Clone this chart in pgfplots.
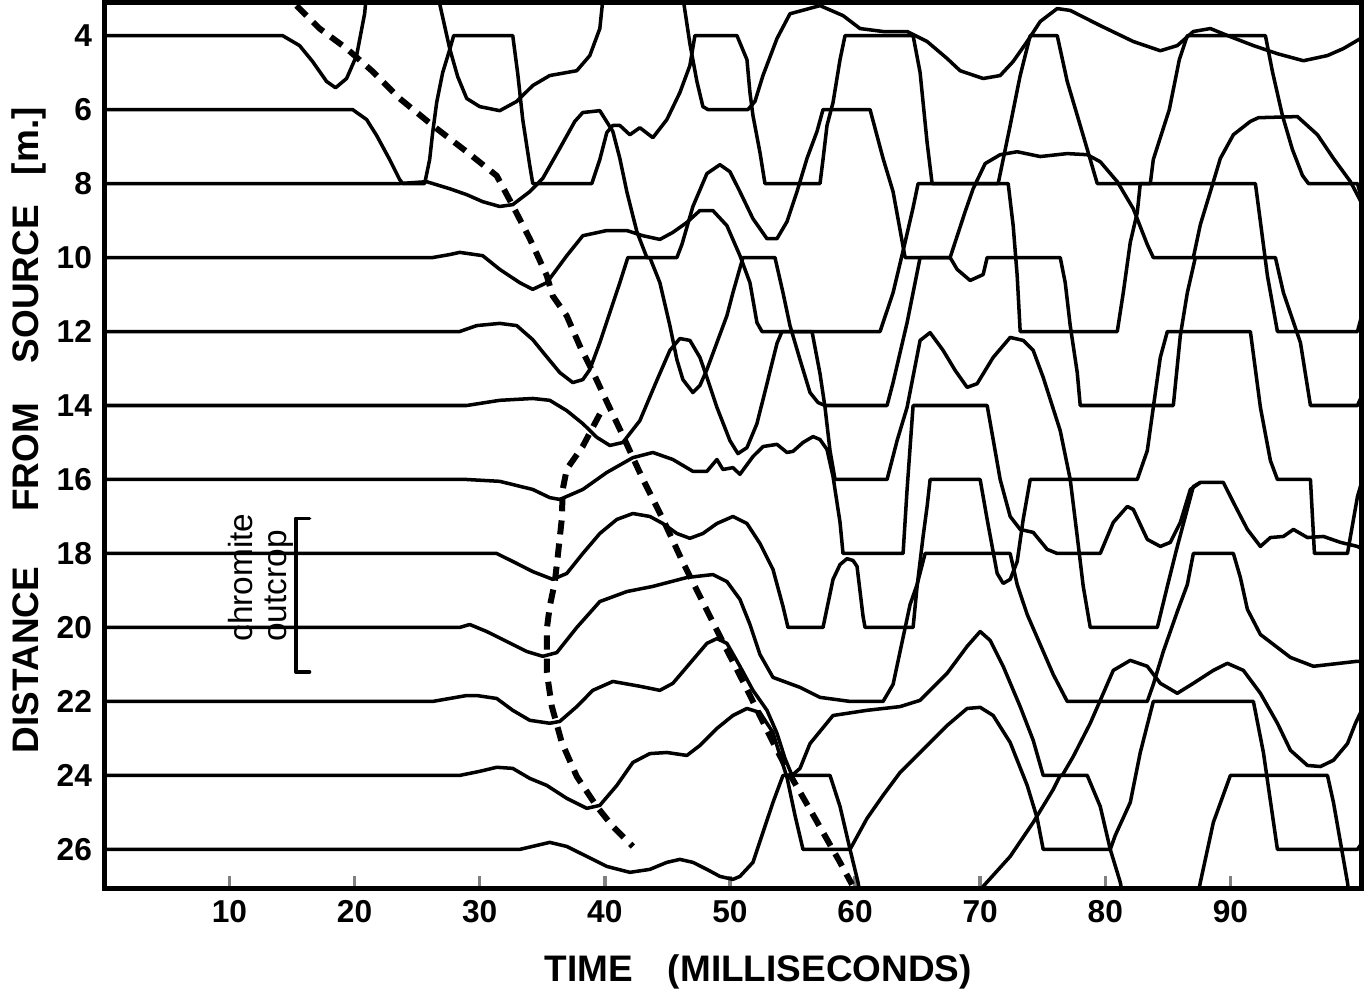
\documentclass[border=0pt]{standalone}
\usepackage{fontspec}
\setmainfont{Liberation Sans}
\usepackage{pgfplots}
\pgfplotsset{compat=1.18}

\pgfplotsset{
  tr/.style={black, line width=1pt, mark=none, line join=round, line cap=round},
  pick/.style={black, line width=1.7pt, mark=none, dash pattern=on 4pt off 2.6pt},
}

\begin{document}
\begin{tikzpicture}
\begin{axis}[
  scale only axis,
  width=12.56cm, height=8.85cm,
  xmin=0, xmax=100.5,
  ymin=3.1, ymax=27.05,
  y dir=reverse,
  xtick={10,20,...,90},
  ytick={4,6,...,26},
  xtick pos=lower, ytick pos=left,
  tick align=inside,
  major tick length=0.12cm,
  ytick style={draw=none},
  xtick style={line width=1pt},
  axis line style={line width=1.3pt},
  tick label style={font=\bfseries\fontsize{9}{10}\selectfont},
  /pgf/number format/assume math mode=true,
  xlabel={TIME\hspace{0.35cm}(MILLISECONDS)},
  ylabel={DISTANCE\hspace{0.55cm}FROM\hspace{0.4cm}SOURCE\hspace{0.3cm}[m.]},
  label style={font=\bfseries\fontsize{10.5}{12}\selectfont},
  xlabel style={at={(axis description cs:0.52,-0.095)}, anchor=center},
  ylabel style={at={(axis description cs:-0.06,0.517)}, anchor=center},
  clip=true,
]
% trace at 4 m
\addplot[tr] coordinates {(0,4) (14.24,4) (15.6,4.27) (16.64,4.70) (17.76,5.24) (18.48,5.41) (19.36,5.16) (20.16,4.54) (20.8,3.41) (21.2,2.0) (26.4,2.0) (26.8,3.14) (27.6,4.35) (28.24,5.11) (28.96,5.70) (30.0,5.92) (31.6,6.03) (32.96,5.78) (34.24,5.35) (35.6,5.08) (37.76,4.95) (38.8,4.54) (39.6,3.81) (40.16,2.0) (46.0,2.0) (46.32,3.14) (46.8,4.22) (47.36,5.24) (47.84,5.92) (48.24,6.0) (51.44,6.0) (52.0,5.78) (52.64,5.08) (53.76,4.08) (54.8,3.41) (57.2,3.19) (59.04,3.46) (60.4,3.81) (62.24,3.89) (64.16,3.89) (65.76,4.16) (67.36,4.62) (68.4,4.95) (70.24,5.16) (71.6,5.08) (72.64,4.70) (73.76,4.16) (74.8,3.62) (76.16,3.27) (77.2,3.32) (79.6,3.73) (82.24,4.16) (84.4,4.41) (85.76,4.27) (87.04,3.89) (88.4,3.81) (90.0,4.03) (91.84,4.27) (93.76,4.49) (95.84,4.68) (97.76,4.54) (99.04,4.35) (100.4,4.08)};
% trace at 6 m
\addplot[tr] coordinates {(0,6) (19.84,6) (20.96,6.27) (21.76,6.70) (22.8,7.35) (23.6,7.89) (23.84,8) (25.6,8) (26.0,7.35) (26.24,6.62) (26.56,5.81) (27.04,5.0) (27.6,4.38) (27.92,4) (32.64,4) (33.04,5.03) (33.44,6.27) (34.0,7.51) (34.24,8) (38.96,8) (39.6,7.35) (40.16,6.62) (40.64,6.43) (41.2,6.43) (42.0,6.68) (42.8,6.49) (43.84,6.76) (44.96,6.27) (46.0,5.54) (46.8,4.81) (47.2,4) (50.56,4) (51.36,4.65) (51.6,5.54) (51.84,6.16) (52.4,7.16) (52.8,8) (57.2,8) (57.44,7.35) (57.76,6.43) (58.24,5.81) (58.8,4.65) (59.2,4) (64.64,4) (65.2,5.0) (65.76,6.89) (66.16,8) (71.44,8) (72.4,6.43) (73.2,5.08) (74.0,4) (76.16,4) (76.96,5.24) (78.0,6.43) (78.8,7.35) (79.36,8) (83.6,8) (83.84,7.35) (85.12,6.0) (85.92,4.65) (86.56,4) (92.8,4) (93.36,4.97) (94.16,6.16) (94.96,7.08) (95.76,7.78) (96.24,8) (100.16,8) (100.56,8.49)};
% trace at 8 m
\addplot[tr] coordinates {(0,8) (23.6,8) (25.76,7.95) (27.6,8.14) (28.96,8.30) (30.24,8.49) (31.6,8.62) (32.64,8.57) (34.0,8.22) (35.04,7.86) (36.4,7.05) (37.6,6.32) (38.24,6.08) (39.6,6.03) (40.64,6.59) (41.2,7.32) (41.76,8.22) (42.56,9.30) (43.36,10) (45.76,10) (46.16,9.65) (47.04,8.62) (48.16,7.73) (49.2,7.49) (50.0,7.68) (50.8,8.22) (51.84,8.95) (52.96,9.49) (53.76,9.49) (54.56,9.03) (55.36,8.22) (56.16,7.32) (56.96,6.59) (57.44,6) (61.2,6) (62.24,7.32) (63.04,8.22) (64.0,10) (67.6,10) (68.8,8.76) (69.44,8.14) (70.4,7.46) (71.6,7.22) (72.96,7.14) (74.8,7.27) (76.96,7.19) (78.56,7.22) (79.6,7.41) (80.96,7.95) (82.24,8.68) (83.36,9.65) (83.84,10) (87.04,10) (87.6,9.11) (88.4,8.22) (89.2,7.32) (90.24,6.68) (91.6,6.32) (92.24,6.22) (95.36,6.19) (96.96,6.68) (98.24,7.32) (99.6,7.95) (100.56,8.57)};
% trace at 10 m
\addplot[tr] coordinates {(0,10) (26.24,10) (27.6,9.92) (28.4,9.86) (30.24,9.95) (31.6,10.32) (33.2,10.68) (34.24,10.86) (35.36,10.68) (36.96,9.95) (38.24,9.41) (40.16,9.27) (41.76,9.27) (43.04,9.41) (44.4,9.51) (45.44,9.32) (46.56,9.05) (47.6,8.73) (48.64,8.73) (49.76,9.14) (50.8,9.95) (51.6,10.68) (52.16,11.76) (52.56,12) (62.0,12) (63.04,10.95) (64.0,9.59) (64.64,8.65) (65.04,8) (72.24,8) (72.64,9.14) (72.96,10.49) (73.2,12) (80.96,12) (81.44,10.95) (82.0,9.59) (82.56,8.78) (82.8,8) (92.0,8) (92.4,9.03) (92.96,10.49) (93.76,12) (100.16,12) (100.56,11.49)};
% trace at 12 m
\addplot[tr] coordinates {(0,12) (28.4,12) (29.76,11.84) (31.6,11.78) (32.96,11.84) (34.24,12.22) (35.2,12.62) (36.4,13.11) (37.44,13.38) (38.24,13.30) (38.8,13.03) (39.6,12.30) (40.4,11.49) (41.2,10.68) (41.84,10) (43.6,10) (44.4,10.68) (45.2,11.84) (45.76,12.76) (46.24,13.30) (47.04,13.65) (47.6,13.46) (48.16,13.03) (48.96,12.30) (49.76,11.57) (50.24,10.95) (51.04,10) (53.6,10) (54.24,10.95) (54.8,11.84) (55.6,12.76) (56.4,13.65) (57.04,13.92) (57.6,14) (62.56,14) (63.04,13.38) (63.6,12.57) (64.16,11.76) (64.64,10.95) (65.2,10) (67.6,10) (68.16,10.32) (69.2,10.62) (70.24,10.46) (70.56,10) (76.4,10) (76.8,10.68) (77.2,11.84) (77.76,13.11) (78.0,14) (85.44,14) (86.0,12.11) (86.56,10.95) (87.2,10) (93.6,10) (94.24,10.95) (95.6,12.30) (96.4,14) (100.16,14) (100.56,13.7)};
% trace at 14 m
\addplot[tr] coordinates {(0,14) (28.96,14) (31.6,13.86) (34.24,13.81) (35.6,13.86) (36.96,14.14) (38.24,14.49) (39.36,14.86) (40.4,15.08) (41.44,15.0) (42.8,14.41) (44.16,13.32) (45.2,12.51) (46.0,12.19) (46.8,12.24) (47.6,12.70) (48.16,13.24) (48.96,14.05) (50.0,14.95) (50.64,15.30) (51.36,15.14) (52.16,14.49) (52.96,13.41) (53.76,12.32) (54.16,12) (56.56,12) (57.2,13.14) (57.6,14.05) (58.0,15.22) (58.4,16) (62.56,16) (63.36,14.95) (64.16,14.05) (65.2,12.24) (66.0,12.03) (67.04,12.51) (68.0,13.05) (68.96,13.51) (69.76,13.41) (71.04,12.70) (72.4,12.16) (73.44,12.24) (74.24,12.51) (75.04,13.24) (76.4,14.68) (77.2,16) (82.56,16) (83.36,15.22) (83.84,14.05) (84.4,12.70) (84.96,12) (91.6,12) (92.4,14.05) (93.2,15.49) (93.76,16) (96.4,16) (96.72,18) (99.36,18) (100.16,16.46) (100.56,16.0)};
% trace at 16 m
\addplot[tr] coordinates {(0,16) (28.96,16) (31.6,16.05) (34.24,16.27) (35.6,16.49) (36.4,16.54) (38.24,16.27) (40.16,15.81) (42.24,15.41) (43.84,15.27) (45.44,15.46) (47.04,15.78) (48.16,15.78) (48.96,15.46) (49.44,15.73) (50.24,15.68) (50.8,15.86) (51.84,15.38) (52.64,15.11) (53.76,15.05) (54.56,15.27) (55.04,15.24) (55.84,15.0) (56.64,14.84) (57.2,14.92) (57.76,15.19) (58.24,15.92) (58.8,17.16) (59.04,18) (63.84,18) (64.16,16.27) (64.64,14) (70.56,14) (71.04,14.92) (71.6,16.0) (72.4,17.0) (73.2,17.35) (74.24,17.43) (75.36,17.89) (76.16,18) (79.6,18) (80.64,17.16) (81.76,16.73) (82.24,16.81) (83.36,17.62) (84.4,17.81) (85.2,17.70) (86.0,17.16) (86.8,16.27) (87.6,16.08) (89.44,16.08) (90.24,16.62) (91.36,17.35) (92.4,17.81) (93.2,17.57) (94.24,17.54) (95.04,17.35) (96.16,17.57) (97.44,17.54) (98.8,17.70) (100.16,17.81) (100.56,17.89)};
% trace at 18 m
\addplot[tr] coordinates {(0,18) (31.36,18) (32.96,18.27) (34.24,18.49) (35.84,18.70) (36.96,18.54) (38.24,18.0) (39.6,17.46) (40.96,17.08) (42.24,16.92) (43.6,17.0) (44.64,17.19) (45.76,17.46) (46.8,17.59) (47.84,17.46) (48.96,17.19) (50.24,17.0) (51.36,17.19) (52.4,17.73) (53.44,18.43) (54.24,19.43) (54.64,20) (57.44,20) (58.24,18.70) (58.8,18.30) (59.36,18.14) (59.84,18.19) (60.16,18.35) (60.64,19.70) (60.8,20) (64.64,20) (64.96,18.89) (65.44,17.54) (65.76,16.73) (66.0,16) (70.0,16) (70.56,17.08) (71.36,18.54) (71.84,18.81) (72.4,18.70) (72.96,18.22) (73.44,17.08) (74.0,16) (77.2,16) (77.76,17.54) (78.24,18.89) (78.8,20) (84.16,20) (84.96,18.89) (85.76,17.81) (86.4,17.0) (87.04,16.19) (87.6,16.08)};
% trace at 20 m
\addplot[tr] coordinates {(0,20) (28.4,20) (29.2,19.92) (30.56,20.11) (32.16,20.38) (33.76,20.65) (35.04,20.78) (36.16,20.68) (37.76,20.0) (39.6,19.30) (41.76,19.03) (43.84,18.89) (46.56,18.65) (48.64,18.57) (49.76,18.76) (50.8,19.24) (51.6,19.92) (52.4,20.73) (53.44,21.35) (55.6,21.62) (57.2,21.89) (59.6,22) (62.24,22) (63.04,21.54) (63.6,20.65) (64.4,19.38) (64.96,18.84) (65.6,18) (72.4,18) (72.96,18.84) (73.76,19.65) (74.8,20.46) (75.84,21.27) (76.96,22) (83.36,22) (83.84,21.54) (84.64,20.65) (85.76,19.57) (86.56,18.84) (87.04,18) (90.24,18) (90.8,18.65) (91.36,19.51) (92.4,20.19) (94.8,20.81) (96.64,21.05) (100.0,20.92) (100.56,20.92)};
% trace at 22 m
\addplot[tr] coordinates {(0,22) (26.24,22) (28.96,21.84) (29.76,21.84) (31.36,21.92) (32.64,22.24) (34.0,22.51) (35.6,22.59) (36.4,22.54) (37.76,22.14) (39.04,21.70) (40.64,21.46) (42.8,21.59) (44.4,21.70) (45.44,21.51) (46.8,20.97) (48.16,20.43) (48.96,20.30) (49.76,20.43) (50.8,21.05) (51.84,21.70) (52.96,22.24) (53.76,22.86) (54.4,23.54) (54.96,24) (55.6,23.81) (56.4,23.14) (58.24,22.38) (60.96,22.24) (63.6,22.14) (65.2,21.97) (67.36,21.24) (68.96,20.51) (70.0,20.11) (70.8,20.35) (71.84,21.05) (73.2,22.14) (74.24,23.05) (75.04,24) (76.56,24) (77.44,23.49) (78.8,22.59) (79.6,21.97) (80.64,21.16) (82.0,20.89) (83.36,21.05) (84.4,21.51) (85.76,21.78) (87.04,21.51) (88.64,21.16) (89.76,20.97) (91.04,21.16) (92.4,21.78) (93.76,22.59) (94.8,23.32) (96.16,23.73) (97.2,23.76) (98.24,23.59) (99.36,23.14) (100.0,22.59) (100.56,22.19)};
% trace at 24 m
\addplot[tr] coordinates {(0,24) (28.4,24) (30.0,23.89) (31.36,23.78) (32.64,23.81) (34.0,24.08) (35.36,24.27) (36.96,24.62) (38.56,24.89) (39.6,24.81) (40.96,24.27) (42.24,23.65) (43.6,23.41) (44.96,23.38) (46.56,23.46) (47.6,23.19) (48.96,22.73) (50.24,22.38) (51.36,22.19) (52.4,22.30) (53.44,22.84) (54.0,23.46) (54.56,24.05) (55.2,25.08) (55.84,26) (59.6,26) (60.96,25.16) (62.24,24.54) (63.6,23.92) (65.2,23.38) (67.36,22.65) (68.96,22.19) (70.0,22.16) (71.04,22.38) (72.4,23.11) (73.76,24.27) (74.56,25.16) (75.04,26) (80.4,26) (80.8,25.62) (82.0,24.73) (82.8,23.38) (83.84,22) (91.84,22) (92.64,23.38) (93.76,26) (100.16,26) (100.56,25.8)};
% trace at 26 m
\addplot[tr] coordinates {(0,26) (31.6,26) (33.2,26) (35.6,25.81) (36.96,25.92) (38.56,26.19) (40.16,26.46) (42.0,26.62) (43.6,26.54) (44.96,26.35) (46.0,26.27) (47.04,26.35) (48.16,26.54) (49.2,26.73) (50.24,26.81) (50.8,26.73) (51.84,26.35) (52.64,25.54) (53.44,24.73) (54.24,24) (58.0,24) (58.8,24.84) (59.6,26.0) (60.24,26.89) (60.8,28) (69.6,28) (70.24,27.0) (72.4,26.19) (74.24,25.27) (75.84,24.38) (76.4,24) (78.56,24) (79.6,24.84) (80.4,26.0) (81.2,26.89) (81.84,28) (86.96,28) (87.6,26.89) (88.64,25.27) (90.0,24) (97.76,24) (98.24,24.73) (99.36,26.89) (99.76,28)};
% first-arrival picks
\addplot[pick] coordinates {(15.36,3.19) (17.2,3.81) (19.36,4.35) (21.44,4.97) (23.6,5.70) (26.24,6.43) (28.96,7.14) (31.36,7.79) (32.64,8.60) (34.0,9.49) (35.36,10.49) (35.84,11.04) (36.96,11.58) (38.0,12.39) (39.04,13.09) (40.16,13.90) (41.2,14.64) (43.04,15.99) (44.64,17.07) (46.24,18.24) (48.0,19.43) (49.44,20.40) (51.36,21.67) (53.2,22.94) (54.56,23.84) (56.4,24.92) (58.8,26.35) (59.76,26.95)};
\addplot[pick] coordinates {(39.6,14.23) (38.96,14.64) (38.24,15.10) (36.96,15.72) (36.64,16.26) (36.56,17.07) (36.24,18.07) (36.0,18.78) (35.6,19.43) (35.36,20.05) (35.36,21.21) (35.76,22.13) (36.56,23.11) (37.76,24.03) (39.36,24.84) (40.64,25.38) (42.24,25.92)};
% chromite outcrop bracket
\addplot[tr] coordinates {(16.4,17.05) (15.3,17.05) (15.3,21.2) (16.4,21.2)};
\node[rotate=90, font=\fontsize{9.5}{9.5}\selectfont, align=left, inner sep=0pt] at (axis cs:12.5,18.65) {chromite\\outcrop};
\end{axis}
\end{tikzpicture}
\end{document}
